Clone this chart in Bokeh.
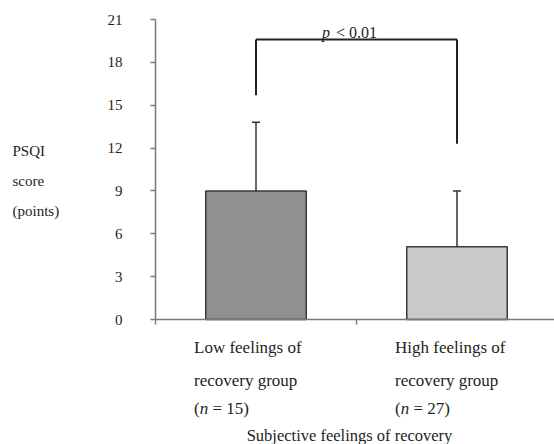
from bokeh.plotting import figure
from bokeh.models import FixedTicker, Label, Whisker, ColumnDataSource, TeeHead, LinearAxis
from bokeh.embed import file_html
from bokeh.resources import INLINE

# ---- data ----
groups_line1 = ["Low feelings of", "High feelings of"]
groups_line2 = ["recovery group", "recovery group"]
group_n = ["15", "27"]
means = [9.0, 5.1]
sds = [4.8, 3.9]
y_ticks = [0, 3, 6, 9, 12, 15, 18, 21]
bracket_top = 19.6
bracket_left_bottom = 15.7
bracket_right_bottom = 12.3
p_text = "< 0.01"
x_title = "Subjective feelings of recovery"
y_title_lines = ["PSQI", "score", "(points)"]

FONT = "Liberation Serif"
TXT = "#231f20"
AX = "#7a7a7a"

W, H = 554, 444
# layout: pixel geometry of the plotting area
X0_PX, PX_PER_X = 155.0, 201.0     # x=0 (left category boundary) at this pixel
Y0_PX, PX_PER_Y = 319.0, 300.0 / 21.0  # y=0 at this pixel (from top)


def X(px):
    return (px - X0_PX) / PX_PER_X


def Y(py):
    return (Y0_PX - py) / PX_PER_Y


xs = [i + 0.5 for i in range(len(means))]
uppers = [m + s for m, s in zip(means, sds)]

p = figure(width=W, height=H, output_backend="svg", toolbar_location=None,
           x_range=(X(0), X(W)), y_range=(Y(H), Y(0)),
           x_axis_type=None, y_axis_type=None,
           min_border=0)
p.outline_line_color = None
p.grid.visible = False
p.background_fill_color = "white"

# y axis (drawn at x = 0)
yax = LinearAxis(fixed_location=0, bounds=(0, 21))
yax.ticker = FixedTicker(ticks=y_ticks)
yax.axis_line_color = AX
yax.major_tick_line_color = AX
yax.axis_line_width = 1.5
yax.major_tick_line_width = 1.5
yax.major_tick_out = 5
yax.major_tick_in = 0
yax.minor_tick_line_color = None
yax.major_label_text_font = FONT
yax.major_label_text_font_size = "15px"
yax.major_label_text_color = TXT
yax.major_label_standoff = 28
p.add_layout(yax, "left")

# x axis (drawn at y = 0), ticks at category boundaries
xax = LinearAxis(fixed_location=0, bounds=(0, X(W)))
xax.ticker = FixedTicker(ticks=[0, 1, 2])
xax.major_label_overrides = {0: "", 1: "", 2: ""}
xax.axis_line_color = AX
xax.major_tick_line_color = AX
xax.axis_line_width = 1.5
xax.major_tick_line_width = 1.5
xax.major_tick_out = 5
xax.major_tick_in = 0
xax.minor_tick_line_color = None
p.add_layout(xax, "below")

# bars
src = ColumnDataSource(dict(x=xs, top=means, upper=uppers,
                            color=["#8f9092", "#c8c9cb"]))
p.vbar(x="x", top="top", bottom=0, width=0.5, fill_color="color",
       line_color="#3a3a3a", line_width=1.5, source=src)

# error bars (upper only)
w = Whisker(base="x", lower="top", upper="upper", source=src,
            line_color="#333333", line_width=1.5,
            upper_head=TeeHead(size=8, line_color="#333333", line_width=1.5),
            lower_head=None)
p.add_layout(w)

# significance bracket
p.segment(x0=[xs[0], xs[0], xs[1]], y0=[bracket_left_bottom, bracket_top, bracket_right_bottom],
          x1=[xs[0], xs[1], xs[1]], y1=[bracket_top, bracket_top, bracket_top],
          line_color="#222222", line_width=2)


def lab(x, y, t, xo=0, yo=0, style="normal", align="left", size="17px"):
    p.add_layout(Label(x=x, y=y, x_offset=xo, y_offset=yo, text=t,
                       text_font=FONT, text_font_style=style, text_font_size=size,
                       text_color=TXT, text_baseline="alphabetic", text_align=align))


# p-value text
mid = (xs[0] + xs[1]) / 2
lab(mid, bracket_top, "p", xo=-34.5, yo=7, style="italic", size="16px")
lab(mid, bracket_top, p_text, xo=-20.5, yo=7, size="16px")

# category labels (left-aligned under each bar)
for x, l1, l2, n in zip(xs, groups_line1, groups_line2, group_n):
    base = -62
    lab(x, Y(347), l1, xo=base)
    lab(x, Y(380), l2, xo=base)
    lab(x, Y(408), "(", xo=base)
    lab(x, Y(408), "n", xo=base + 5.7, style="italic")
    lab(x, Y(408), "= " + n + ")", xo=base + 18.5)

# x title
lab(mid, Y(435), x_title, xo=-7, align="center", size="16.5px")

# y title
for i, t in enumerate(y_title_lines):
    lab(X(12), Y(150 + 30 * i), t, size="15px")

open("out.html", "w").write(file_html(p, INLINE))
